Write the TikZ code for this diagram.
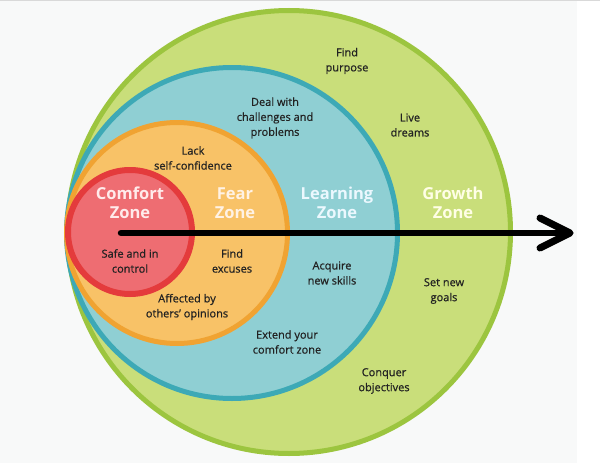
\documentclass[tikz,border=0pt]{standalone}
\usepackage{fontspec}
\setmainfont{Open Sans}
\newfontfamily\medfont{Open Sans}[FakeBold=0.7]
\usetikzlibrary{arrows.meta}
\definecolor{gfill}{HTML}{C9DE7A}
\definecolor{gring}{HTML}{9CC53F}
\definecolor{tfill}{HTML}{8FCFD3}
\definecolor{tring}{HTML}{3DA9B6}
\definecolor{ofill}{HTML}{F8C267}
\definecolor{oring}{HTML}{F0A332}
\definecolor{rfill}{HTML}{EE6D72}
\definecolor{rring}{HTML}{E43B3C}
\definecolor{bg}{HTML}{F8F9F9}
\definecolor{txt}{HTML}{222222}
\tikzset{
  zone/.style={line width=5pt},
  lbl/.style={align=center, text=txt, font=\medfont\fontsize{11}{15}\selectfont, inner sep=0pt},
  ttl/.style={align=center, font=\bfseries\fontsize{16.5}{19}\selectfont, inner sep=0pt},
}
\begin{document}
\begin{tikzpicture}[x=1pt,y=-1pt]
\useasboundingbox (0,0) rectangle (600,463);
\fill[white] (0,0) rectangle (600,463);
\fill[bg] (0,0) rectangle (577,463);
\draw[black!15, line width=1pt] (0,0.5) -- (600,0.5);
% circles
\draw[zone, fill=gfill, draw=gring] (289,232) circle[radius=221.5pt];
\draw[zone, fill=tfill, draw=tring] (232,233) circle[radius=165.5pt];
\draw[zone, fill=ofill, draw=oring] (177,233) circle[radius=110.5pt];
\draw[line width=6pt, fill=rfill, draw=rring] (130,232) circle[radius=62pt];
% titles
\node[ttl, text=red!8] (comfort) at (130,203) {Comfort\\Zone};
\node[ttl, text=orange!10] (fear) at (235,203) {Fear\\Zone};
\node[ttl, text=cyan!8] (learning) at (337,203) {Learning\\Zone};
\node[ttl, text=yellow!10] (growth) at (453,203) {Growth\\Zone};
% arrow
\coordinate (astart) at (121,233);
\coordinate (aend) at (570,233);
\draw[line width=6.5pt, line cap=round] (astart) -- (aend);
\draw[line width=7pt, line cap=round, line join=round] ([shift={(-30,-15)}]aend) -- (aend) -- ([shift={(-30,15)}]aend);
% labels
\node[lbl] (purpose) at (347,61) {Find\\purpose};
\node[lbl] (dreams) at (410,125) {Live\\dreams};
\node[lbl] (deal) at (275,118) {Deal with\\challenges and\\problems};
\node[lbl] (lack) at (193,158) {Lack\\self-confidence};
\node[lbl] (safe) at (130,261) {Safe and in\\control};
\node[lbl] (excuses) at (232,261) {Find\\excuses};
\node[lbl] (acquire) at (332,273) {Acquire\\new skills};
\node[lbl] (affected) at (187,307) {Affected by\\others’ opinions};
\node[lbl] (extend) at (287,342) {Extend your\\comfort zone};
\node[lbl] (goals) at (444,291) {Set new\\goals};
\node[lbl] (conquer) at (384,381) {Conquer\\objectives};
\end{tikzpicture}
\end{document}
